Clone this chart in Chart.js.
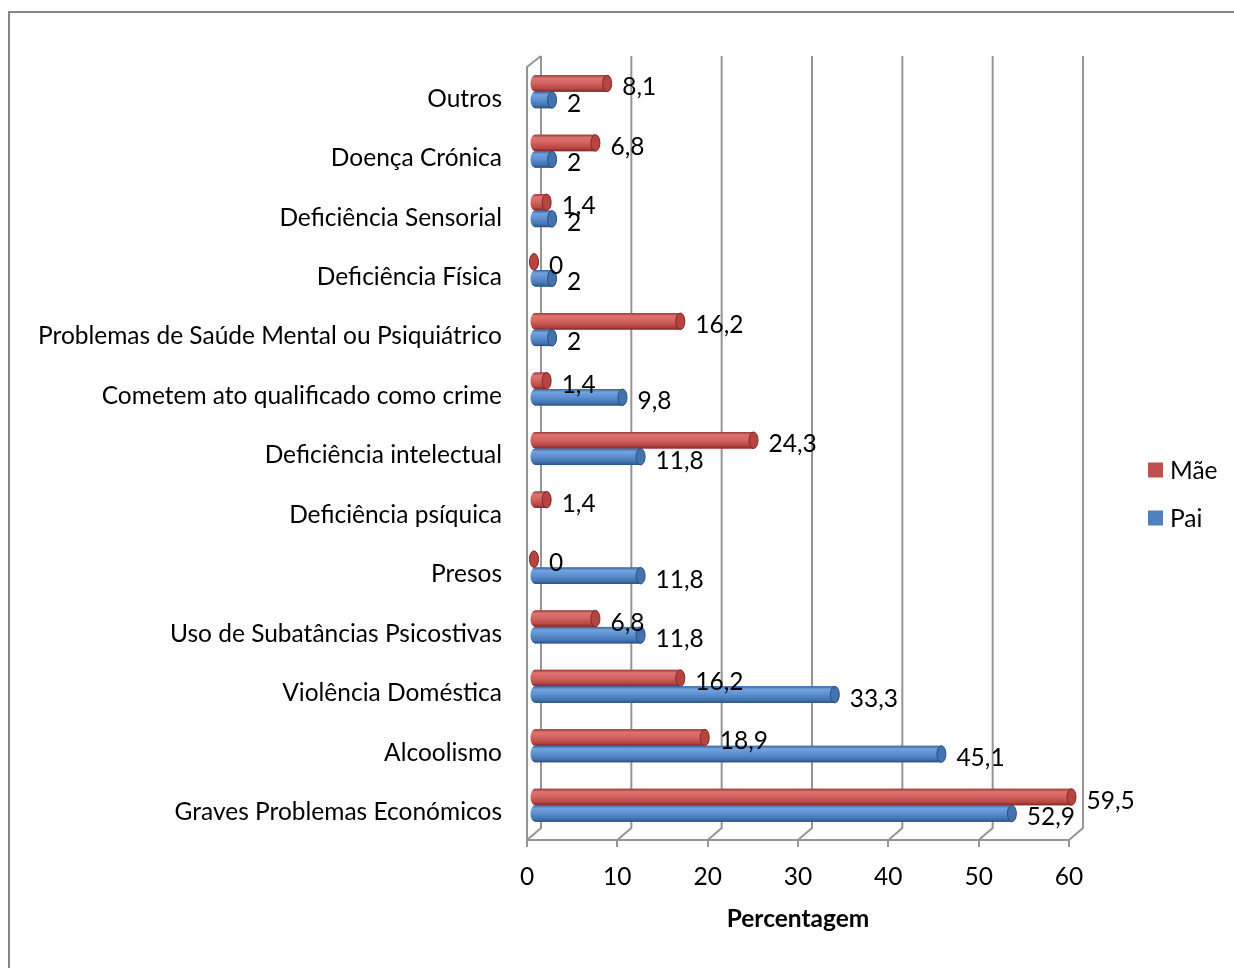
<!DOCTYPE html>
<html><head><meta charset="utf-8">
<script src="https://cdn.jsdelivr.net/npm/chart.js@4.4.1/dist/chart.umd.min.js"></script>
<style>
html,body{margin:0;padding:0;background:#fff;overflow:hidden;}
#wrap{position:relative;width:1234px;height:968px;}
#frame{position:absolute;left:8px;top:11px;width:1240px;height:980px;border:2px solid #868686;box-sizing:border-box;}
canvas{position:absolute;left:0;top:0;}
</style></head>
<body><div id="wrap"><div id="frame"></div><canvas id="c" width="1234" height="968"></canvas></div>
<script>
const categories = ["Outros","Doença Crónica","Deficiência Sensorial","Deficiência Física","Problemas de Saúde Mental ou Psiquiátrico","Cometem ato qualificado como crime","Deficiência intelectual","Deficiência psíquica","Presos","Uso de Subatâncias Psicostivas","Violência Doméstica","Alcoolismo","Graves Problemas Económicos"];
const maeValues = [8.1, 6.8, 1.4, 0, 16.2, 1.4, 24.3, 1.4, 0, 6.8, 16.2, 18.9, 59.5];
const paiValues = [2, 2, 2, 2, 2, 9.8, 11.8, null, 11.8, 11.8, 33.3, 45.1, 52.9];
const seriesNames = ["Mãe", "Pai"];
const xTicks = [0, 10, 20, 30, 40, 50, 60];
const axisTitle = "Percentagem";

const FONT = "Lato";
const FS = 24.5;
const GRID = "#959595";
const DEPTH_X = 14, DEPTH_Y = 12;
const BAR_DX = 7, BAR_DY = -5;
const shades = [
  {base:"#C0504D", stops:["#9a3936","#de7370","#d2625f","#b84643","#7c2826"], cap:"#b64542"},
  {base:"#4F81BD", stops:["#3564a0","#73a3de","#5b8fd0","#4474b0","#2a4f80"], cap:"#4372ad"}
];

function fmt(v){ return String(v).replace('.', ','); }

const wallPlugin = {
  id:'wall',
  beforeDatasetsDraw(chart){
    const {ctx, chartArea:a, scales:{x}} = chart;
    ctx.save();
    ctx.strokeStyle = GRID; ctx.lineWidth = 2;
    xTicks.forEach(t=>{
      const px = x.getPixelForValue(t);
      ctx.beginPath();
      ctx.moveTo(px + DEPTH_X, a.top - DEPTH_Y + 1);
      ctx.lineTo(px + DEPTH_X, a.bottom - DEPTH_Y);
      ctx.lineTo(px, a.bottom);
      ctx.stroke();
    });
    const p0 = x.getPixelForValue(0);
    ctx.beginPath();
    ctx.moveTo(p0, a.top);
    ctx.lineTo(p0 + DEPTH_X, a.top - DEPTH_Y + 1);
    ctx.stroke();
    ctx.restore();
  }
};

const cylPlugin = {
  id:'cyl',
  beforeDatasetsDraw(chart){ chart.ctx.save(); chart.ctx.translate(BAR_DX, BAR_DY); },
  afterDatasetsDraw(chart){
    const ctx = chart.ctx;
    chart.data.datasets.forEach((ds, di)=>{
      const meta = chart.getDatasetMeta(di);
      const sh = shades[di];
      meta.data.forEach((el, i)=>{
        if (ds.data[i] === null || ds.data[i] === undefined) return;
        const p = el.getProps(['x','y','base','height'], true);
        const h = p.height, top = p.y - h/2;
        const g = ctx.createLinearGradient(0, top, 0, top + h);
        g.addColorStop(0, sh.stops[0]); g.addColorStop(0.18, sh.stops[1]);
        g.addColorStop(0.5, sh.stops[2]); g.addColorStop(0.82, sh.stops[3]);
        g.addColorStop(1, sh.stops[4]);
        const rx = 4.5;
        ctx.fillStyle = g;
        ctx.beginPath(); ctx.ellipse(p.base, p.y, rx, h/2, 0, 0, Math.PI*2); ctx.fill();
        ctx.fillRect(p.base, top, p.x - p.base, h);
        ctx.beginPath(); ctx.ellipse(p.x, p.y, rx, h/2, 0, 0, Math.PI*2);
        ctx.fillStyle = sh.cap; ctx.fill();
        ctx.strokeStyle = sh.stops[4]; ctx.lineWidth = 1; ctx.stroke();
      });
    });
    ctx.restore();
    ctx.save();
    ctx.font = FS + "px " + FONT; ctx.fillStyle = "#000"; ctx.textAlign = "left"; ctx.textBaseline = "middle";
    chart.data.datasets.forEach((ds, di)=>{
      const meta = chart.getDatasetMeta(di);
      meta.data.forEach((el, i)=>{
        const v = ds.data[i];
        if (v === null || v === undefined) return;
        const p = el.getProps(['x','y'], true);
        ctx.fillText(fmt(v), p.x + 22, p.y - 1);
      });
    });
    ctx.restore();
  }
};

const legendPlugin = {
  id:'myLegend',
  afterDraw(chart){
    const ctx = chart.ctx;
    ctx.save();
    ctx.font = FS + "px " + FONT; ctx.textBaseline = "middle";
    chart.data.datasets.forEach((ds, di)=>{
      const cy = 470 + di*48;
      ctx.fillStyle = ds.backgroundColor;
      ctx.fillRect(1148, cy - 7.5, 15, 15);
      ctx.fillStyle = "#000";
      ctx.fillText(ds.label, 1170, cy + 1);
    });
    ctx.restore();
  }
};

new Chart(document.getElementById('c'), {
  type:'bar',
  data:{
    labels: categories,
    datasets:[
      {label: seriesNames[0], data: maeValues, backgroundColor: shades[0].base, borderWidth:0},
      {label: seriesNames[1], data: paiValues, backgroundColor: shades[1].base, borderWidth:0}
    ]
  },
  options:{
    indexAxis:'y',
    responsive:false,
    animation:false,
    devicePixelRatio:1,
    layout:{padding:{left:0, top:67, right:165, bottom:0}},
    datasets:{bar:{barPercentage:1, categoryPercentage:0.555}},
    plugins:{legend:{display:false}, tooltip:{enabled:false}},
    scales:{
      x:{
        min:0, max:60,
        afterBuildTicks(s){ s.ticks = xTicks.map(v=>({value:v})); },
        afterFit(s){ s.height = 128; },
        grid:{display:true, drawOnChartArea:false, drawTicks:true, tickLength:7, color:GRID, lineWidth:2},
        border:{display:true, color:GRID, width:2},
        ticks:{color:"#000", font:{family:FONT, size:FS}, padding:15, maxRotation:0},
        title:{display:true, text:axisTitle, color:"#000", font:{family:FONT, size:FS, weight:'bold'}, padding:{top:0, bottom:34}}
      },
      y:{
        afterFit(s){ s.width = 527; },
        grid:{display:false, drawTicks:false},
        border:{display:true, color:GRID, width:2},
        ticks:{color:"#000", font:{family:FONT, size:FS}, padding:25, labelOffset:2}
      }
    }
  },
  plugins:[wallPlugin, cylPlugin, legendPlugin]
});
</script></body></html>
